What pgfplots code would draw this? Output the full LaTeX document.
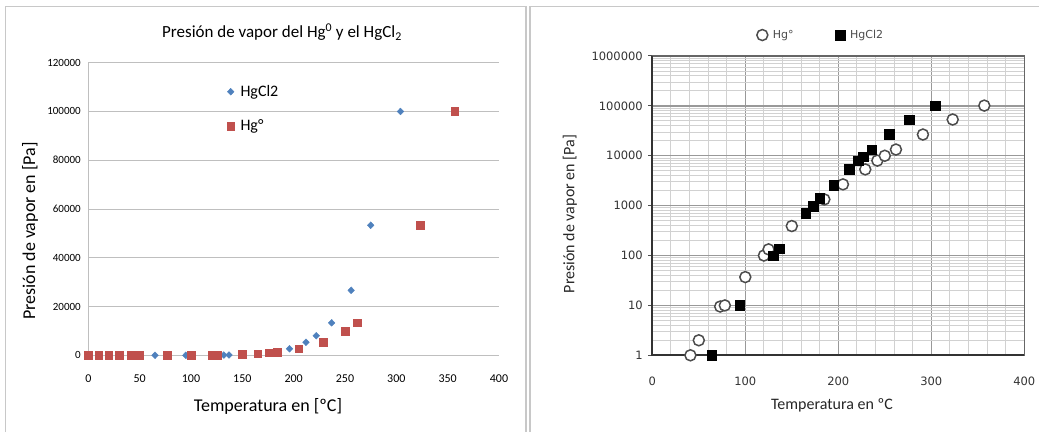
\documentclass[border=0pt]{standalone}
\usepackage{pgfplots}
\pgfplotsset{compat=1.18}
\usepackage{fontspec}
\setmainfont{Carlito}
\newfontfamily\dvs{DejaVu Sans}
\definecolor{xlblue}{HTML}{4F81BD}
\definecolor{xlred}{HTML}{C0504D}
\definecolor{framegray}{HTML}{C8C8C8}
\definecolor{gridgray}{HTML}{BFBFBF}
\newcommand{\fs}[1]{\fontsize{#1}{#1}\selectfont}

\begin{document}
\begin{tikzpicture}[x=1pt,y=1pt]
\path[use as bounding box] (0,0) rectangle (1039,432);
% panel frames
\draw[framegray, line width=1.2pt] (5.5,0) -- (5.5,425.5) -- (526,425.5) -- (526,0);
\draw[framegray, line width=1.2pt] (530,0) -- (530,425.5) -- (1039,425.5);

% ---- left panel: linear scale
\begin{axis}[
    at={(88.3pt,76.7pt)}, anchor=south west,
    scale only axis, width=410.7pt, height=292.6pt,
    xmin=0, xmax=400, ymin=0, ymax=120000,
    xtick={0,50,...,400}, ytick={0,20000,...,120000},
    axis lines*=left,
    axis line style={gridgray, line width=1pt},
    ymajorgrids, grid style={gridgray, line width=1pt},
    major tick length=0pt,
    clip=false,
    scaled y ticks=false,
    /pgf/number format/assume math mode=true,
    yticklabel style={/pgf/number format/fixed, /pgf/number format/1000 sep={}, font=\fs{11pt}, xshift=-4pt},
    xticklabel style={font=\fs{12pt}, yshift=-16pt},
    legend style={draw=none, fill=none, at={(0.337,0.93)}, anchor=north west,
        font=\fs{16pt}, row sep=18pt, inner sep=0pt,
        /tikz/every odd column/.append style={column sep=4pt}},
    legend cell align=left,
]
\addplot[only marks, mark=diamond*, mark size=3.4pt, color=xlblue,
    mark options={xscale=1.3}] coordinates {
    (65,1) (95,10) (132,100) (137,133) (196,2670) (212,5330) (222,8000)
    (237,13330) (256,26660) (275,53330) (304,100000)
};
\addlegendentry{HgCl2}
\addplot[only marks, mark=square*, mark size=3.8pt, color=xlred] coordinates {
    (0,0.03) (10,0.1) (20,0.2) (30,0.5) (42,1) (46,1.5) (50,2) (77,10)
    (100,37) (120,100) (126,133) (150,380) (165,700) (176,1000) (180,1130)
    (184,1333) (205,2670) (229,5330) (250,10000) (262,13330) (323,53330) (357,100000)
};
\addlegendentry{Hg°}
\end{axis}

\node[font=\fs{17pt}] at (282,400) {Presión de vapor del Hg\textsuperscript{0} y el HgCl\textsubscript{2}};
\node[font=\fs{18pt}] at (268,26) {Temperatura en [ºC]};
\node[font=\fs{18pt}, rotate=90] at (30,201) {Presión de vapor en [Pa]};

% ---- right panel: log scale
\begin{axis}[
    at={(652.3pt,76.7pt)}, anchor=south west,
    scale only axis, width=372pt, height=299.3pt,
    xmin=0, xmax=400, ymode=log, ymin=1, ymax=1000000,
    xtick={0,100,...,400}, minor x tick num=4,
    ytick={1,10,100,1000,10000,100000,1000000},
    yticklabels={1,10,100,1000,10000,100000,1000000},
    xmajorgrids, xminorgrids, ymajorgrids, yminorgrids,
    major grid style={black!40, line width=1.3pt},
    minor grid style={black!18, line width=0.9pt},
    axis line style={black!60, line width=1.2pt},
    tick align=outside, major tick length=4pt, minor tick length=0pt,
    ytick pos=left, xtick style={draw=none},
    ytick style={black!70, line width=1pt},
    clip=false,
    /pgf/number format/assume math mode=true,
    ticklabel style={font=\dvs\fs{11.5pt}, text=black!80},
    yticklabel style={xshift=-2pt},
    xticklabel style={yshift=-14pt},
    legend columns=2,
    legend style={draw=none, fill=none, at={(0.4535,1.07)}, anchor=center,
        font=\dvs\fs{11pt}, text=black!70,
        /tikz/every odd column/.append style={column sep=3pt},
        /tikz/every even column/.append style={column sep=40pt}},
]
\addplot[only marks, mark=*, mark size=5.5pt,
    mark options={fill=white, draw=black!70, line width=1.5pt}] coordinates {
    (41,1) (50,2) (73,9.5) (78,10) (100,37) (120,100) (125,133) (150,390)
    (185,1333) (205,2670) (229,5330) (242,8000) (250,10000) (262,13330)
    (291,26660) (323,53330) (357,101325)
};
\addlegendentry{Hg°}
\addplot[only marks, mark=square*, mark size=4.8pt, black] coordinates {
    (64,1) (94,10) (130,100) (136.5,138) (165,700) (173,980) (180,1400)
    (195,2600) (212,5333) (221.5,8000) (227,9600) (236,13330) (255,27000)
    (276,53330) (304,101325)
};
\addlegendentry{HgCl2}
\draw[black!80, line width=2pt] (rel axis cs:0,1) -- (rel axis cs:0,0) -- (rel axis cs:1,0);
\end{axis}

\node[font=\fs{16pt}, text=black!85] at (832,27) {Temperatura en ºC};
\node[font=\fs{16pt}, text=black!85, rotate=90] at (570,218) {Presión de vapor en [Pa]};
\end{tikzpicture}
\end{document}
